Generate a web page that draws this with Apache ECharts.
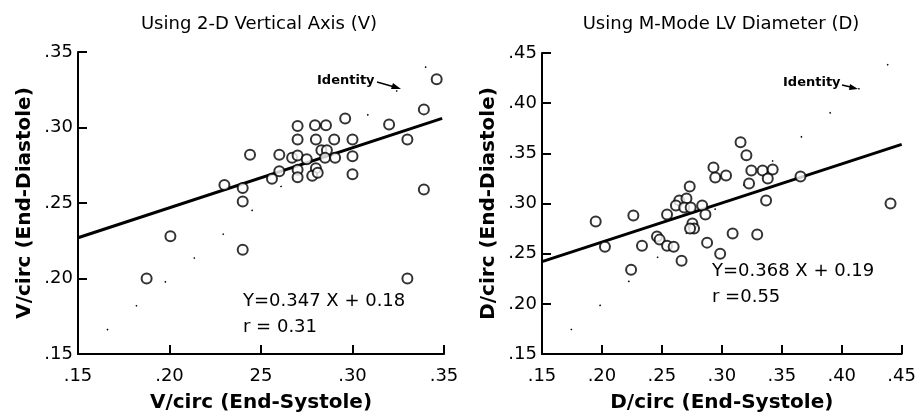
<!DOCTYPE html>
<html>
<head>
<meta charset="utf-8">
<script src="https://cdn.jsdelivr.net/npm/echarts@6/dist/echarts.min.js"></script>
<style>
  html, body { margin: 0; padding: 0; background: #fff; }
  #chart { width: 919px; height: 418px; }
</style>
</head>
<body>
<div id="chart"></div>
<script>
// left panel: 2-D vertical axis (V)
var vPoints = [
  [0.265, 0.359], [0.346, 0.332], [0.339, 0.312], [0.320, 0.302], [0.330, 0.292],
  [0.339, 0.259], [0.296, 0.306], [0.270, 0.301], [0.2795, 0.3015], [0.2855, 0.3015],
  [0.270, 0.292], [0.280, 0.292], [0.290, 0.292], [0.300, 0.292], [0.244, 0.282],
  [0.260, 0.282], [0.267, 0.280], [0.270, 0.2815], [0.275, 0.279], [0.283, 0.285],
  [0.286, 0.285], [0.285, 0.280], [0.2905, 0.280], [0.300, 0.281], [0.260, 0.271],
  [0.256, 0.266], [0.270, 0.272], [0.270, 0.267], [0.280, 0.273], [0.278, 0.268],
  [0.281, 0.270], [0.300, 0.269], [0.230, 0.262], [0.240, 0.260], [0.240, 0.251],
  [0.2005, 0.228], [0.1875, 0.200], [0.240, 0.219], [0.330, 0.200]
];
var vFit = [[0.15, 0.227], [0.349, 0.306]];
var vIdentity = [[0.15, 0.15], [0.35, 0.35]];
var vXTicks = ['.15', '.20', '25', '.30', '.35'];
var vYTicks = ['.15', '.20', '.25', '.30', '.35'];

// right panel: M-mode LV diameter (D)
var dPoints = [
  [0.3156, 0.361], [0.3205, 0.348], [0.293, 0.336], [0.2945, 0.326], [0.3035, 0.328],
  [0.3246, 0.333], [0.3227, 0.320], [0.334, 0.333], [0.3424, 0.334], [0.3383, 0.325],
  [0.3656, 0.327], [0.3369, 0.303], [0.4407, 0.300], [0.2732, 0.317], [0.2645, 0.303],
  [0.2705, 0.305], [0.2617, 0.298], [0.2686, 0.296], [0.274, 0.296], [0.2836, 0.298],
  [0.2863, 0.289], [0.2262, 0.288], [0.2543, 0.289], [0.2754, 0.280], [0.2768, 0.275],
  [0.2735, 0.275], [0.309, 0.270], [0.3295, 0.269], [0.1948, 0.282], [0.2025, 0.257],
  [0.2243, 0.234], [0.2334, 0.258], [0.2459, 0.267], [0.2481, 0.264], [0.2543, 0.258],
  [0.2598, 0.257], [0.2664, 0.243], [0.2877, 0.261], [0.2986, 0.250]
];
var dFit = [[0.15, 0.242], [0.45, 0.359]];
var dIdentity = [[0.15, 0.15], [0.45, 0.45]];
var dXTicks = ['.15', '.20', '.25', '.30', '.35', '.40', '.45'];
var dYTicks = ['.15', '.20', '.25', '.30', '.35', '.40', '.45'];

var FONT = 'DejaVu Sans, Liberation Sans, sans-serif';

function tickFmt(labels) {
  return function (val) {
    var i = Math.round((val - 0.15) / 0.05);
    return labels[i] !== undefined ? labels[i] : '';
  };
}

function makeX(idx, max, labels, name) {
  return {
    gridIndex: idx, type: 'value', min: 0.15, max: max, interval: 0.05,
    name: name, nameLocation: 'middle', nameGap: 39,
    nameTextStyle: { fontFamily: FONT, fontSize: 20, fontWeight: 'bold', color: '#000' },
    axisLine: { onZero: false, lineStyle: { color: '#000', width: 2 } },
    axisTick: { inside: true, length: 9, lineStyle: { color: '#000', width: 2 } },
    axisLabel: { formatter: tickFmt(labels), fontFamily: FONT, fontSize: 18, color: '#000', margin: 13 },
    splitLine: { show: false }
  };
}

function makeY(idx, max, labels, name) {
  return {
    gridIndex: idx, type: 'value', min: 0.15, max: max, interval: 0.05,
    name: name, nameLocation: 'middle', nameGap: 43, nameRotate: 90,
    nameTextStyle: { fontFamily: FONT, fontSize: 20, fontWeight: 'bold', color: '#000' },
    axisLine: { onZero: false, lineStyle: { color: '#000', width: 2 } },
    axisTick: { inside: true, length: 9, lineStyle: { color: '#000', width: 2 } },
    axisLabel: { formatter: tickFmt(labels), fontFamily: FONT, fontSize: 18, color: '#000', margin: 5 },
    splitLine: { show: false }
  };
}

function pointSeries(idx, data) {
  return {
    type: 'scatter', xAxisIndex: idx, yAxisIndex: idx, data: data,
    symbol: 'circle', symbolSize: 10,
    itemStyle: { color: '#fff', borderColor: '#000', borderWidth: 2 },
    z: 5
  };
}

function lineSeries(idx, data, width, dash) {
  return {
    type: 'line', xAxisIndex: idx, yAxisIndex: idx, data: data,
    symbol: 'none', silent: true,
    lineStyle: { color: '#000', width: width, type: dash || 'solid' },
    z: dash ? 2 : 4
  };
}

var chart = echarts.init(document.getElementById('chart'));
chart.setOption({
  backgroundColor: '#fff',
  animation: false,
  grid: [
    { left: 78, right: 475, top: 52, bottom: 63 },
    { left: 542, right: 12, top: 53, bottom: 61 }
  ],
  title: [
    { text: 'Using 2-D Vertical Axis (V)', left: 254, top: 10, textAlign: 'center',
      textStyle: { fontFamily: FONT, fontSize: 18, fontWeight: 'normal', color: '#000' } },
    { text: 'Using M-Mode LV Diameter (D)', left: 716, top: 10, textAlign: 'center',
      textStyle: { fontFamily: FONT, fontSize: 18, fontWeight: 'normal', color: '#000' } }
  ],
  xAxis: [
    makeX(0, 0.35, vXTicks, 'V/circ (End-Systole)'),
    makeX(1, 0.45, dXTicks, 'D/circ (End-Systole)')
  ],
  yAxis: [
    makeY(0, 0.35, vYTicks, 'V/circ (End-Diastole)'),
    makeY(1, 0.45, dYTicks, 'D/circ (End-Diastole)')
  ],
  series: [
    lineSeries(0, vIdentity, 1.5, [1.5, 36]),
    lineSeries(0, vFit, 3),
    pointSeries(0, vPoints),
    lineSeries(1, dIdentity, 1.5, [1.5, 36]),
    lineSeries(1, dFit, 3),
    pointSeries(1, dPoints)
  ],
  graphic: [
    { type: 'text', left: 317, top: 74,
      style: { text: 'Identity', font: 'bold 13px ' + FONT, fill: '#000' } },
    { type: 'line', shape: { x1: 377, y1: 82, x2: 398, y2: 88 },
      style: { stroke: '#000', lineWidth: 1.5 } },
    { type: 'polygon', shape: { points: [[401, 89], [393, 83], [391, 89]] },
      style: { fill: '#000' } },
    { type: 'text', left: 243, top: 292,
      style: { text: 'Y=0.347 X + 0.18', font: '18px ' + FONT, fill: '#000' } },
    { type: 'text', left: 243, top: 318,
      style: { text: 'r = 0.31', font: '18px ' + FONT, fill: '#000' } },

    { type: 'text', left: 783, top: 76,
      style: { text: 'Identity', font: 'bold 13px ' + FONT, fill: '#000' } },
    { type: 'line', shape: { x1: 842, y1: 85, x2: 855, y2: 88 },
      style: { stroke: '#000', lineWidth: 1.5 } },
    { type: 'polygon', shape: { points: [[858, 89], [850, 84], [849, 90]] },
      style: { fill: '#000' } },
    { type: 'text', left: 712, top: 262,
      style: { text: 'Y=0.368 X + 0.19', font: '18px ' + FONT, fill: '#000' } },
    { type: 'text', left: 712, top: 288,
      style: { text: 'r =0.55', font: '18px ' + FONT, fill: '#000' } }
  ]
});
</script>
</body>
</html>
